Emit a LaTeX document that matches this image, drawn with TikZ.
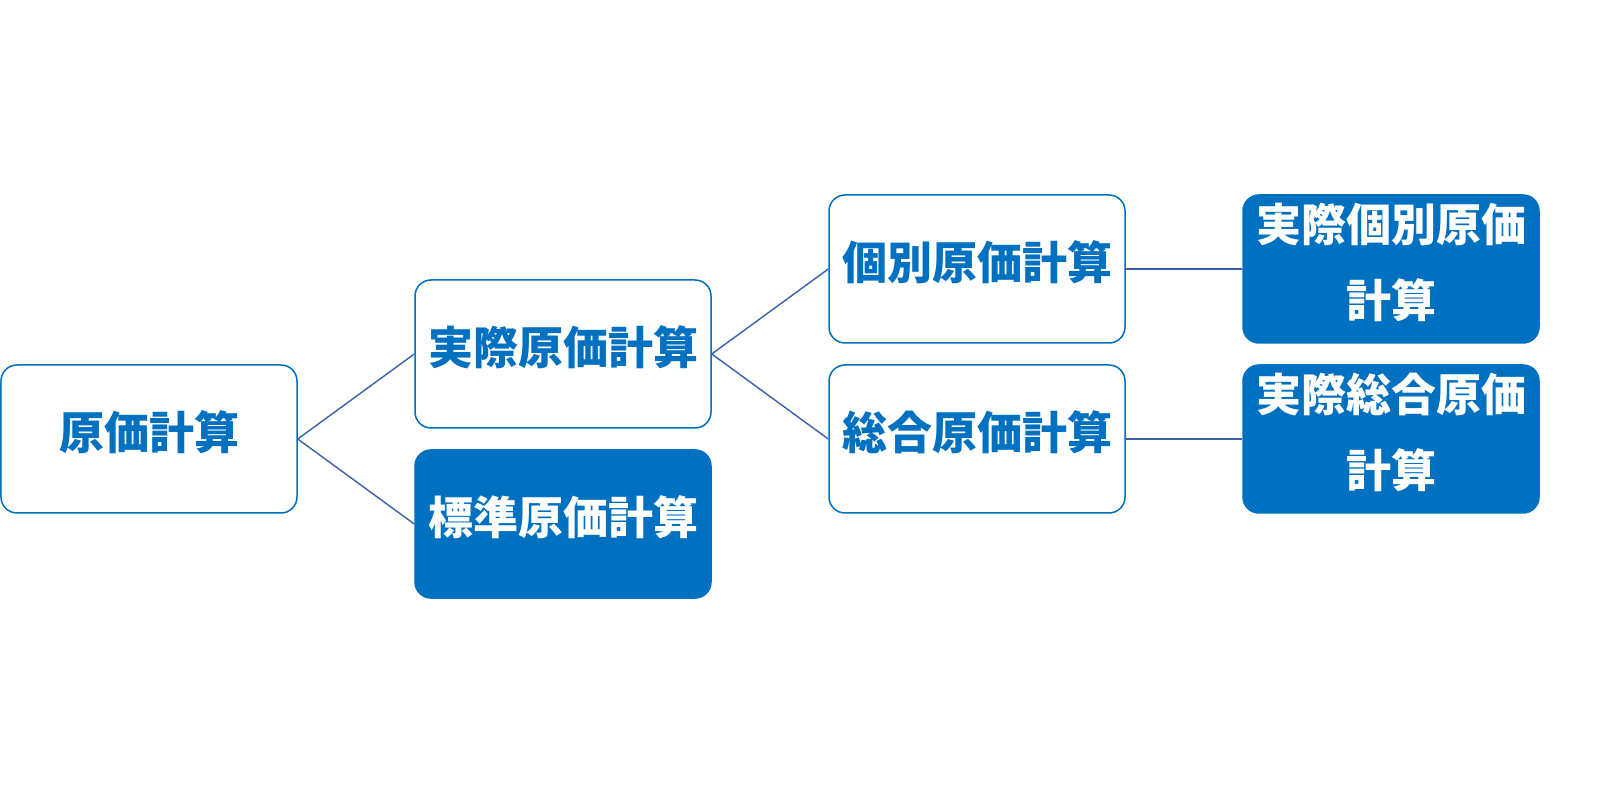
\documentclass[tikz,border=0pt]{standalone}
\usepackage{xcolor}
\usepackage{fontspec}
\usepackage{tikz}
\newfontfamily\jpfont{Noto Sans CJK JP}
\definecolor{boxblue}{HTML}{0070C0}
\definecolor{lineblue}{HTML}{3A5FA8}

\tikzset{
	costbox/.style={draw=boxblue, line width=0.75pt, fill=white, rounded corners=8pt,
		minimum width=148pt, minimum height=74pt, inner sep=0pt, text=boxblue, text depth=9pt,
		font=\jpfont\bfseries\fontsize{22.5pt}{38pt}\selectfont, align=center},
	costfill/.style={costbox, fill=boxblue, text=white}
}

\begin{document}
\begin{tikzpicture}[grow=right, level distance=207pt, sibling distance=85pt,
	edge from parent/.style={draw=lineblue, line width=0.7pt},
	edge from parent path={(\tikzparentnode.east) -- (\tikzchildnode.west)}]
\useasboundingbox (-74.5pt,-184.5pt) rectangle (725.5pt,219.5pt);
\node[costbox] (g1) {原価計算} {
	child {
		node[costfill] (g3) {標準原価計算}
	}
	child {
		node[costbox] (g2) {実際原価計算}
		child {
			node[costbox] (g5) {総合原価計算}
			child {
				node[costfill] (g7) {実際総合原価\\計算}
			}
		}
		child {
			node[costbox] (g4) {個別原価計算}
			child {
				node[costfill] (g6) {実際個別原価\\計算}
			}
		}
	}
};
\end{tikzpicture}
\end{document}
